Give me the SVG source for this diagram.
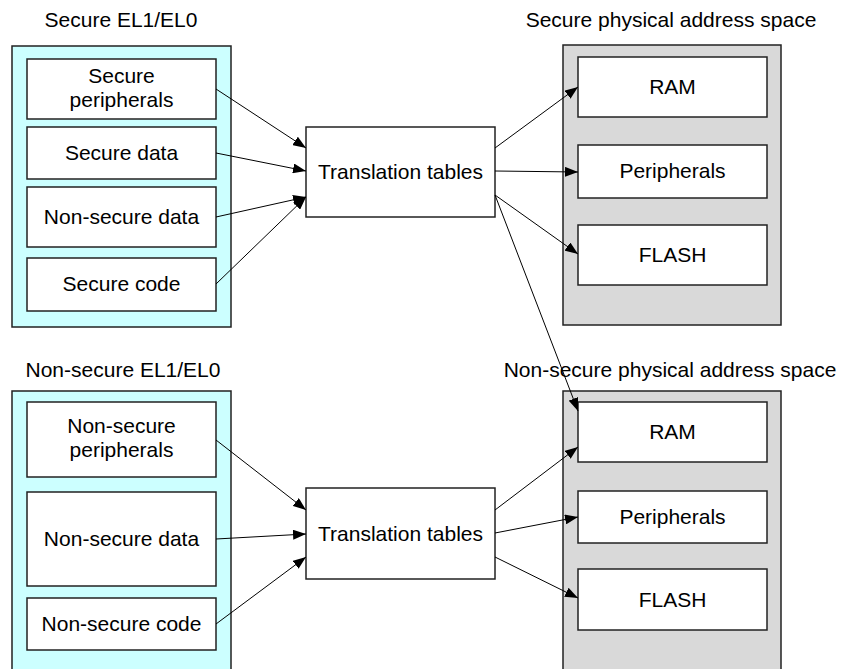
<svg xmlns="http://www.w3.org/2000/svg" width="842" height="669" viewBox="0 0 842 669">
<defs>
<style>
text{font-family:"Liberation Sans",Arial,sans-serif;font-size:21px;fill:#000;text-anchor:middle}
.title{text-anchor:middle}
.outerL{fill:#CCFFFF;stroke:#222;stroke-width:1.5}
.outerR{fill:#D9D9D9;stroke:#222;stroke-width:1.5}
.box{fill:#fff;stroke:#222;stroke-width:1.5}
.conn{stroke:#000;stroke-width:1;fill:none;marker-end:url(#ah)}
</style>
<marker id="ah" markerUnits="userSpaceOnUse" markerWidth="14" markerHeight="10" refX="13" refY="5" orient="auto">
<path d="M0,0 L13,5 L0,10 Z" fill="#000"/>
</marker>
</defs>
<rect width="842" height="669" fill="#fff"/>

<g id="secure-el">
<text x="121" y="27">Secure EL1/EL0</text>
<rect class="outerL" x="12" y="46" width="219" height="281"/>
</g>
<g id="secure-peripherals"><rect class="box" x="27" y="59" width="189" height="60"/><text x="121.5" y="83">Secure</text><text x="121.5" y="107">peripherals</text></g>
<g id="secure-data"><rect class="box" x="27" y="127" width="189" height="52"/><text x="121.5" y="160">Secure data</text></g>
<g id="ns-data-top"><rect class="box" x="27" y="187" width="189" height="60"/><text x="121.5" y="224">Non-secure data</text></g>
<g id="secure-code"><rect class="box" x="27" y="258" width="189" height="53"/><text x="121.5" y="291">Secure code</text></g>

<g id="ns-el">
<text x="123" y="377">Non-secure EL1/EL0</text>
<rect class="outerL" x="12" y="391" width="219" height="285"/>
</g>
<g id="ns-peripherals"><rect class="box" x="27" y="402" width="189" height="75"/><text x="121.5" y="433">Non-secure</text><text x="121.5" y="457">peripherals</text></g>
<g id="ns-data"><rect class="box" x="27" y="492" width="189" height="94"/><text x="121.5" y="546">Non-secure data</text></g>
<g id="ns-code"><rect class="box" x="27" y="598" width="189" height="52"/><text x="121.5" y="631">Non-secure code</text></g>

<g id="tt-secure"><rect class="box" x="306" y="127" width="189" height="90"/><text x="400.5" y="179">Translation tables</text></g>
<g id="tt-ns"><rect class="box" x="306" y="488" width="189" height="91"/><text x="400.5" y="541">Translation tables</text></g>

<g id="secure-pas">
<text x="671" y="27">Secure physical address space</text>
<rect class="outerR" x="563" y="45" width="218" height="280"/>
</g>
<g id="s-ram"><rect class="box" x="578" y="57" width="189" height="60"/><text x="672.5" y="94">RAM</text></g>
<g id="s-periph"><rect class="box" x="578" y="145" width="189" height="53"/><text x="672.5" y="178">Peripherals</text></g>
<g id="s-flash"><rect class="box" x="578" y="225" width="189" height="60"/><text x="672.5" y="262">FLASH</text></g>

<g id="ns-pas">
<text x="670" y="377">Non-secure physical address space</text>
<rect class="outerR" x="563" y="391" width="218" height="285"/>
</g>
<g id="ns-ram"><rect class="box" x="578" y="402" width="189" height="60"/><text x="672.5" y="439">RAM</text></g>
<g id="ns-periph"><rect class="box" x="578" y="491" width="189" height="52"/><text x="672.5" y="524">Peripherals</text></g>
<g id="ns-flash"><rect class="box" x="578" y="569" width="189" height="61"/><text x="672.5" y="607">FLASH</text></g>

<g id="connectors">
<line class="conn" x1="216" y1="89" x2="306" y2="148"/>
<line class="conn" x1="216" y1="153" x2="306" y2="171"/>
<line class="conn" x1="216" y1="217" x2="306" y2="197"/>
<line class="conn" x1="216" y1="284" x2="306" y2="197"/>
<line class="conn" x1="495" y1="148" x2="578" y2="87"/>
<line class="conn" x1="495" y1="171" x2="578" y2="172"/>
<line class="conn" x1="495" y1="195" x2="578" y2="254"/>
<line class="conn" x1="495" y1="195" x2="578" y2="411"/>
<line class="conn" x1="216" y1="440" x2="306" y2="510"/>
<line class="conn" x1="216" y1="539" x2="306" y2="534"/>
<line class="conn" x1="216" y1="624" x2="306" y2="557"/>
<line class="conn" x1="495" y1="510" x2="578" y2="447"/>
<line class="conn" x1="495" y1="533" x2="578" y2="517"/>
<line class="conn" x1="495" y1="557" x2="578" y2="598"/>
</g>
</svg>
